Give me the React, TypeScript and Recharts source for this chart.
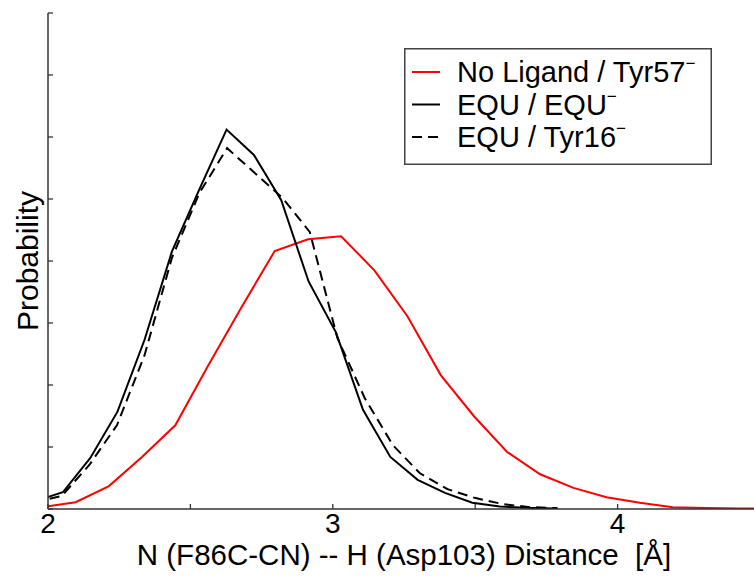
import { LineChart, Line, XAxis, YAxis, Legend } from "recharts";

// No Ligand / Tyr57- (red), bins ~0.1165 apart
const noLigandX = [1.981, 2.097, 2.214, 2.33, 2.447, 2.563, 2.68, 2.796, 2.913, 3.029, 3.146, 3.262, 3.379, 3.495, 3.612, 3.728, 3.845, 3.961, 4.078, 4.194, 4.311, 4.427, 4.544];
const noLigandY = [0.03, 0.11, 0.37, 0.84, 1.35, 2.32, 3.26, 4.16, 4.35, 4.4, 3.85, 3.11, 2.16, 1.5, 0.92, 0.56, 0.34, 0.19, 0.1, 0.03, 0.015, 0.01, 0.01];

// EQU / EQU- (solid black)
const equEquX = [1.956, 2.052, 2.148, 2.244, 2.339, 2.435, 2.531, 2.627, 2.723, 2.819, 2.915, 3.011, 3.106, 3.202, 3.298, 3.394, 3.49, 3.586, 3.682, 3.778];
const equEquY = [0.13, 0.27, 0.82, 1.57, 2.73, 4.15, 5.15, 6.12, 5.71, 4.98, 3.67, 2.85, 1.6, 0.84, 0.47, 0.26, 0.1, 0.04, 0.02, 0.01];

// EQU / Tyr16- (dashed black)
const equTyrX = [1.951, 2.048, 2.145, 2.242, 2.339, 2.435, 2.532, 2.629, 2.726, 2.823, 2.919, 3.016, 3.112, 3.211, 3.305, 3.403, 3.498, 3.596, 3.691, 3.789];
const equTyrY = [0.11, 0.21, 0.71, 1.35, 2.48, 4.05, 5.1, 5.82, 5.42, 5.02, 4.47, 2.76, 1.79, 1.03, 0.58, 0.32, 0.18, 0.08, 0.03, 0.015];

const xTicks = [2, 2.5, 3, 3.5, 4, 4.5];
const yTicks = [0, 1, 2, 3, 4, 5, 6, 7, 8];

const legendItems = [
  { name: "No Ligand / Tyr57", color: "#ff0000", dash: undefined },
  { name: "EQU / EQU", color: "#000000", dash: undefined },
  { name: "EQU / Tyr16", color: "#000000", dash: "10 6" },
];

const FONT = "'Liberation Sans', Arial, Helvetica, sans-serif";
const AXIS = "#333";

const toPoints = (xs: number[], ys: number[]) => xs.map((x, i) => ({ x, y: ys[i] }));

const noLigand = toPoints(noLigandX, noLigandY);
const equEqu = toPoints(equEquX, equEquY);
const equTyr = toPoints(equTyrX, equTyrY);

function BottomTick({ x, y, payload }: any) {
  const v = payload.value;
  return (
    <g>
      <line x1={x} x2={x} y1={y} y2={y - 5} stroke={AXIS} strokeWidth={1.3} />
      {Number.isInteger(v) && (
        <text x={x} y={y + 24} textAnchor="middle" fontSize={28} fontFamily={FONT} fill="#000">
          {v}
        </text>
      )}
    </g>
  );
}

function TopTick({ x, y }: any) {
  return <line x1={x} x2={x} y1={y} y2={y + 5} stroke={AXIS} strokeWidth={1.3} />;
}

function LeftTick({ x, y }: any) {
  return <line x1={x} x2={x + 5} y1={y} y2={y} stroke={AXIS} strokeWidth={1.3} />;
}

function RightTick({ x, y }: any) {
  return <line x1={x} x2={x - 7} y1={y} y2={y} stroke={AXIS} strokeWidth={1.3} />;
}

function XTitle({ viewBox }: any) {
  return (
    <text x={viewBox.x + viewBox.width / 2} y={viewBox.y + 56} textAnchor="middle" fontSize={29.5} fontFamily={FONT}>
      {"N (F86C-CN) -- H (Asp103) Distance\u00a0 [Å]"}
    </text>
  );
}

function YTitle({ viewBox }: any) {
  const cx = 27;
  const cy = viewBox.y + viewBox.height / 2;
  return (
    <text x={cx} y={cy} transform={`rotate(-90 ${cx} ${cy})`} textAnchor="middle" dominantBaseline="central" fontSize={30} fontFamily={FONT}>
      Probability
    </text>
  );
}

function LegendBox() {
  return (
    <svg width={308} height={117} style={{ display: "block" }}>
      <rect x={0.75} y={0.75} width={306.5} height={115.5} fill="#fff" stroke="#444" strokeWidth={1.5} />
      {legendItems.map((item, i) => {
        const cy = 24 + i * 32.5;
        return (
          <g key={item.name}>
            <line x1={8} x2={36} y1={cy} y2={cy} stroke={item.color} strokeWidth={2} strokeDasharray={item.dash} />
            <text x={53} y={cy + 10} fontSize={29} fontFamily={FONT} fill="#000">
              {item.name}
              <tspan dy={-13} fontSize={17}>−</tspan>
            </text>
          </g>
        );
      })}
    </svg>
  );
}

export default function App() {
  return (
    <div style={{ position: "absolute", left: 0, top: 0, width: 754, height: 579, overflow: "hidden", background: "#fff" }}>
      <LineChart width={770} height={579} margin={{ top: 13, right: 10, left: 0, bottom: 0 }}>
        <XAxis
          xAxisId={0}
          type="number"
          dataKey="x"
          domain={[2, 4.5]}
          ticks={xTicks}
          allowDataOverflow
          height={70}
          tickSize={0}
          tickMargin={0}
          tickLine={false}
          tick={<BottomTick />}
          axisLine={{ stroke: AXIS, strokeWidth: 1.5 }}
          label={{ content: <XTitle /> }}
        />
        <XAxis
          xAxisId="top"
          orientation="top"
          type="number"
          dataKey="x"
          domain={[2, 4.5]}
          ticks={xTicks}
          allowDataOverflow
          height={0}
          tickSize={0}
          tickMargin={0}
          tickLine={false}
          tick={<TopTick />}
          axisLine={{ stroke: AXIS, strokeWidth: 1.5 }}
        />
        <YAxis
          yAxisId={0}
          type="number"
          domain={[0, 8]}
          ticks={yTicks}
          allowDataOverflow
          width={48}
          tickSize={0}
          tickMargin={0}
          tickLine={false}
          tick={<LeftTick />}
          axisLine={{ stroke: AXIS, strokeWidth: 1.5 }}
          label={{ content: <YTitle /> }}
        />
        <YAxis
          yAxisId="right"
          orientation="right"
          type="number"
          domain={[0, 8]}
          ticks={yTicks}
          width={0}
          tickSize={0}
          tickMargin={0}
          tickLine={false}
          tick={<RightTick />}
          axisLine={{ stroke: AXIS, strokeWidth: 1.5 }}
        />
        <Legend
          layout="horizontal"
          verticalAlign="middle"
          align="center"
          content={<LegendBox />}
          wrapperStyle={{ position: "absolute", left: 404, top: 48, width: 308, height: 117 }}
        />
        <Line data={noLigand} dataKey="y" type="linear" stroke="#ff0000" strokeWidth={2} dot={false} isAnimationActive={false} />
        <Line data={equEqu} dataKey="y" type="linear" stroke="#000" strokeWidth={2} dot={false} isAnimationActive={false} />
        <Line data={equTyr} dataKey="y" type="linear" stroke="#000" strokeWidth={2} strokeDasharray="10 6" dot={false} isAnimationActive={false} />
      </LineChart>
    </div>
  );
}
